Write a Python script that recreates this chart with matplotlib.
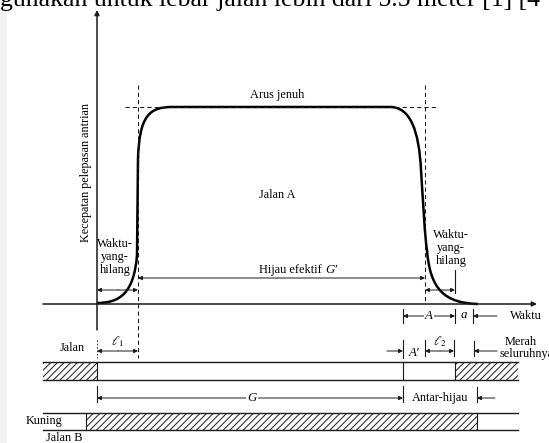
import matplotlib.pyplot as plt
from matplotlib.path import Path
from matplotlib.patches import PathPatch, Rectangle

plt.rcParams['font.family'] = ['Liberation Serif', 'DejaVu Serif']
plt.rcParams['mathtext.fontset'] = 'stix'
plt.rcParams['hatch.linewidth'] = 0.8

# waktu kejadian (posisi pada sumbu waktu)
t_mulai_hijau = 97
t_mulai_efektif = 138
t_akhir_hijau = 403
t_akhir_efektif = 425
t_akhir_kuning = 455
t_akhir_merah = 475
t_akhir_bar = 518

# level arus
y_nol = 304
y_jenuh = 107

# kurva pelepasan antrian (titik kontrol bezier)
kurva_x = [97, 120, 134, 137, 138, 139, 150, 172, 390, 410, 419, 421, 423, 425, 427, 430, 445, 478]
kurva_y = [303, 303, 293, 255, 160, 115, 107, 107, 107, 107, 130, 170, 200, 240, 250, 290, 303, 304]
kurva_kode = [Path.MOVETO, Path.CURVE4, Path.CURVE4, Path.CURVE4, Path.LINETO,
              Path.CURVE4, Path.CURVE4, Path.CURVE4, Path.LINETO,
              Path.CURVE4, Path.CURVE4, Path.CURVE4, Path.CURVE4, Path.CURVE4, Path.CURVE4,
              Path.CURVE4, Path.CURVE4, Path.CURVE4]

fig = plt.figure(figsize=(5.49, 4.43), dpi=100)
ax = fig.add_axes([0, 0, 1, 1])
ax.set_xlim(0, 549)
ax.set_ylim(443, 0)
ax.axis('off')

k = '#1a1a1a'
fs = 8.8

# latar
ax.add_patch(Rectangle((0, 8), 7, 443, color='#f2f2f2', lw=0))
ax.text(0, 6, 'gunakan untuk lebar jalan lebih dari 5.5 meter [1] [4', fontsize=18.5,
        ha='left', va='baseline', color='black')


def panah(x0, x1, y, gaya='-|>'):
    ax.annotate('', xy=(x1, y), xytext=(x0, y),
                arrowprops=dict(arrowstyle=gaya, color=k, lw=0.7, mutation_scale=6,
                                shrinkA=0, shrinkB=0))


def garis(x, y0, y1, **kw):
    ax.plot([x, x], [y0, y1], color=k, lw=0.8, **kw)


# sumbu
ax.annotate('', xy=(t_mulai_hijau, 10), xytext=(t_mulai_hijau, 330),
            arrowprops=dict(arrowstyle='-|>', color=k, lw=1.1, mutation_scale=7, shrinkA=0, shrinkB=0))
ax.annotate('', xy=(537, y_nol), xytext=(43, y_nol),
            arrowprops=dict(arrowstyle='-|>', color=k, lw=1.1, mutation_scale=7, shrinkA=0, shrinkB=0))

# garis putus-putus
ax.plot([t_mulai_efektif, t_mulai_efektif], [85, 358], color=k, lw=0.75, ls=(0, (4, 3)))
ax.plot([t_akhir_efektif, t_akhir_efektif], [85, y_nol], color=k, lw=0.75, ls=(0, (4, 3)))
ax.plot([125, 438], [y_jenuh, y_jenuh], color=k, lw=0.75, ls=(0, (4, 3)))

# kurva
ax.add_patch(PathPatch(Path(list(zip(kurva_x, kurva_y)), kurva_kode), fill=False, color='black', lw=1.8))

ax.text(277, 95, 'Arus jenuh', fontsize=fs, ha='center', va='center')
ax.text(277, 195, 'Jalan A', fontsize=fs, ha='center', va='center')
ax.text(86, 172, 'Kecepatan pelepasan antrian', fontsize=8.7, rotation=90, ha='center', va='center')

ax.text(115, 257, 'Waktu-\nyang-\nhilang', fontsize=fs, ha='center', va='center', linespacing=1.1)
ax.text(451, 248, 'Waktu-\nyang-\nhilang', fontsize=fs, ha='center', va='center', linespacing=1.1)
panah(118, t_mulai_hijau, 290)
panah(118, t_mulai_efektif, 290)
panah(440, t_akhir_efektif, 290)
panah(440, t_akhir_kuning, 290)
garis(t_akhir_kuning, 270, 293)

ax.text(322, 270, 'Hijau efektif', fontsize=fs, ha='right', va='center')
ax.text(325, 270, 'G′', fontsize=fs + 0.5, style='italic', ha='left', va='center')
panah(277, t_mulai_efektif, 278)
panah(277, t_akhir_efektif, 278)

# baris A, a, Waktu
y1 = 316
garis(t_akhir_hijau, 309, 323)
garis(t_akhir_kuning, 309, 323)
garis(t_akhir_merah - 2, 309, 323)
panah(429, t_akhir_hijau, y1)
panah(429, t_akhir_kuning, y1)
ax.text(429, y1, 'A', fontsize=fs + 0.5, style='italic', ha='center', va='center',
        bbox=dict(fc='white', ec='none', pad=0.8))
ax.text(464, y1 - 1, 'a', fontsize=fs + 0.5, style='italic', ha='center', va='center')
panah(497, t_akhir_merah - 2, y1)
ax.text(510, y1, 'Waktu', fontsize=fs, ha='left', va='center')

# baris Jalan, l1, A', l2
y2 = 351
ax.text(72, 348, 'Jalan', fontsize=fs, ha='center', va='center')
ax.plot([t_mulai_hijau, t_mulai_hijau], [340, 358], color=k, lw=0.6, ls=(0, (2, 2)))
panah(118, t_mulai_hijau, y2)
panah(118, t_mulai_efektif, y2)
ax.text(118, 342, r'$\ell_1$', fontsize=fs + 0.5, ha='center', va='center')
panah(387, t_akhir_hijau, y2)
garis(t_akhir_hijau, 340, 358)
ax.text(414, 353, 'A′', fontsize=fs + 0.5, style='italic', ha='center', va='center')
garis(t_akhir_efektif, 340, 356)
panah(440, t_akhir_efektif, y2)
panah(440, t_akhir_kuning - 1, y2)
garis(t_akhir_kuning - 1, 340, 356)
ax.text(440, 342, r'$\ell_2$', fontsize=fs + 0.5, ha='center', va='center')
garis(t_akhir_merah - 1, 341, 356)
panah(497, t_akhir_merah - 1, y2)
ax.text(521, 342, 'Merah', fontsize=fs, ha='center', va='center')
ax.text(500, 354, 'seluruhnya', fontsize=fs, ha='left', va='center')

# bar Jalan A
ax.plot([43, t_akhir_bar], [362, 362], color=k, lw=1.0)
ax.plot([43, t_akhir_bar], [380, 380], color=k, lw=1.0)
ax.add_patch(Rectangle((43, 362), t_mulai_hijau - 43, 18, fill=False, hatch='/////', lw=0, ec='#333333'))
ax.add_patch(Rectangle((t_akhir_kuning, 362), t_akhir_bar - t_akhir_kuning, 18, fill=False, hatch='/////', lw=0, ec='#333333'))
garis(t_mulai_hijau, 362, 380)
garis(t_akhir_hijau, 362, 380)
garis(t_akhir_kuning, 362, 380)

# baris G, Antar-hijau
y3 = 398
garis(t_mulai_hijau, 386, 402)
garis(t_akhir_hijau, 386, 402)
panah(252, t_mulai_hijau, y3)
panah(252, t_akhir_hijau, y3)
ax.text(252, y3, 'G', fontsize=fs + 0.5, style='italic', ha='center', va='center',
        bbox=dict(fc='white', ec='none', pad=0.8))
ax.text(440, y3, 'Antar-hijau', fontsize=fs, ha='center', va='center')
garis(t_akhir_merah + 2, 387, 402)
panah(495, t_akhir_merah + 2, y3)

# bar Jalan B
ax.plot([43, t_akhir_bar], [413, 413], color=k, lw=1.0)
ax.plot([43, t_akhir_bar], [430, 430], color=k, lw=1.0)
ax.add_patch(Rectangle((86, 413), t_akhir_merah + 2 - 86, 17, fill=False, hatch='/////', lw=0, ec='#333333'))
garis(86, 413, 430)
garis(t_akhir_merah + 2, 413, 430)
ax.text(44, 421, 'Kuning', fontsize=fs, ha='center', va='center')
ax.text(64, 438, 'Jalan B', fontsize=fs, ha='center', va='center')

fig.savefig('out.png', dpi=100)
